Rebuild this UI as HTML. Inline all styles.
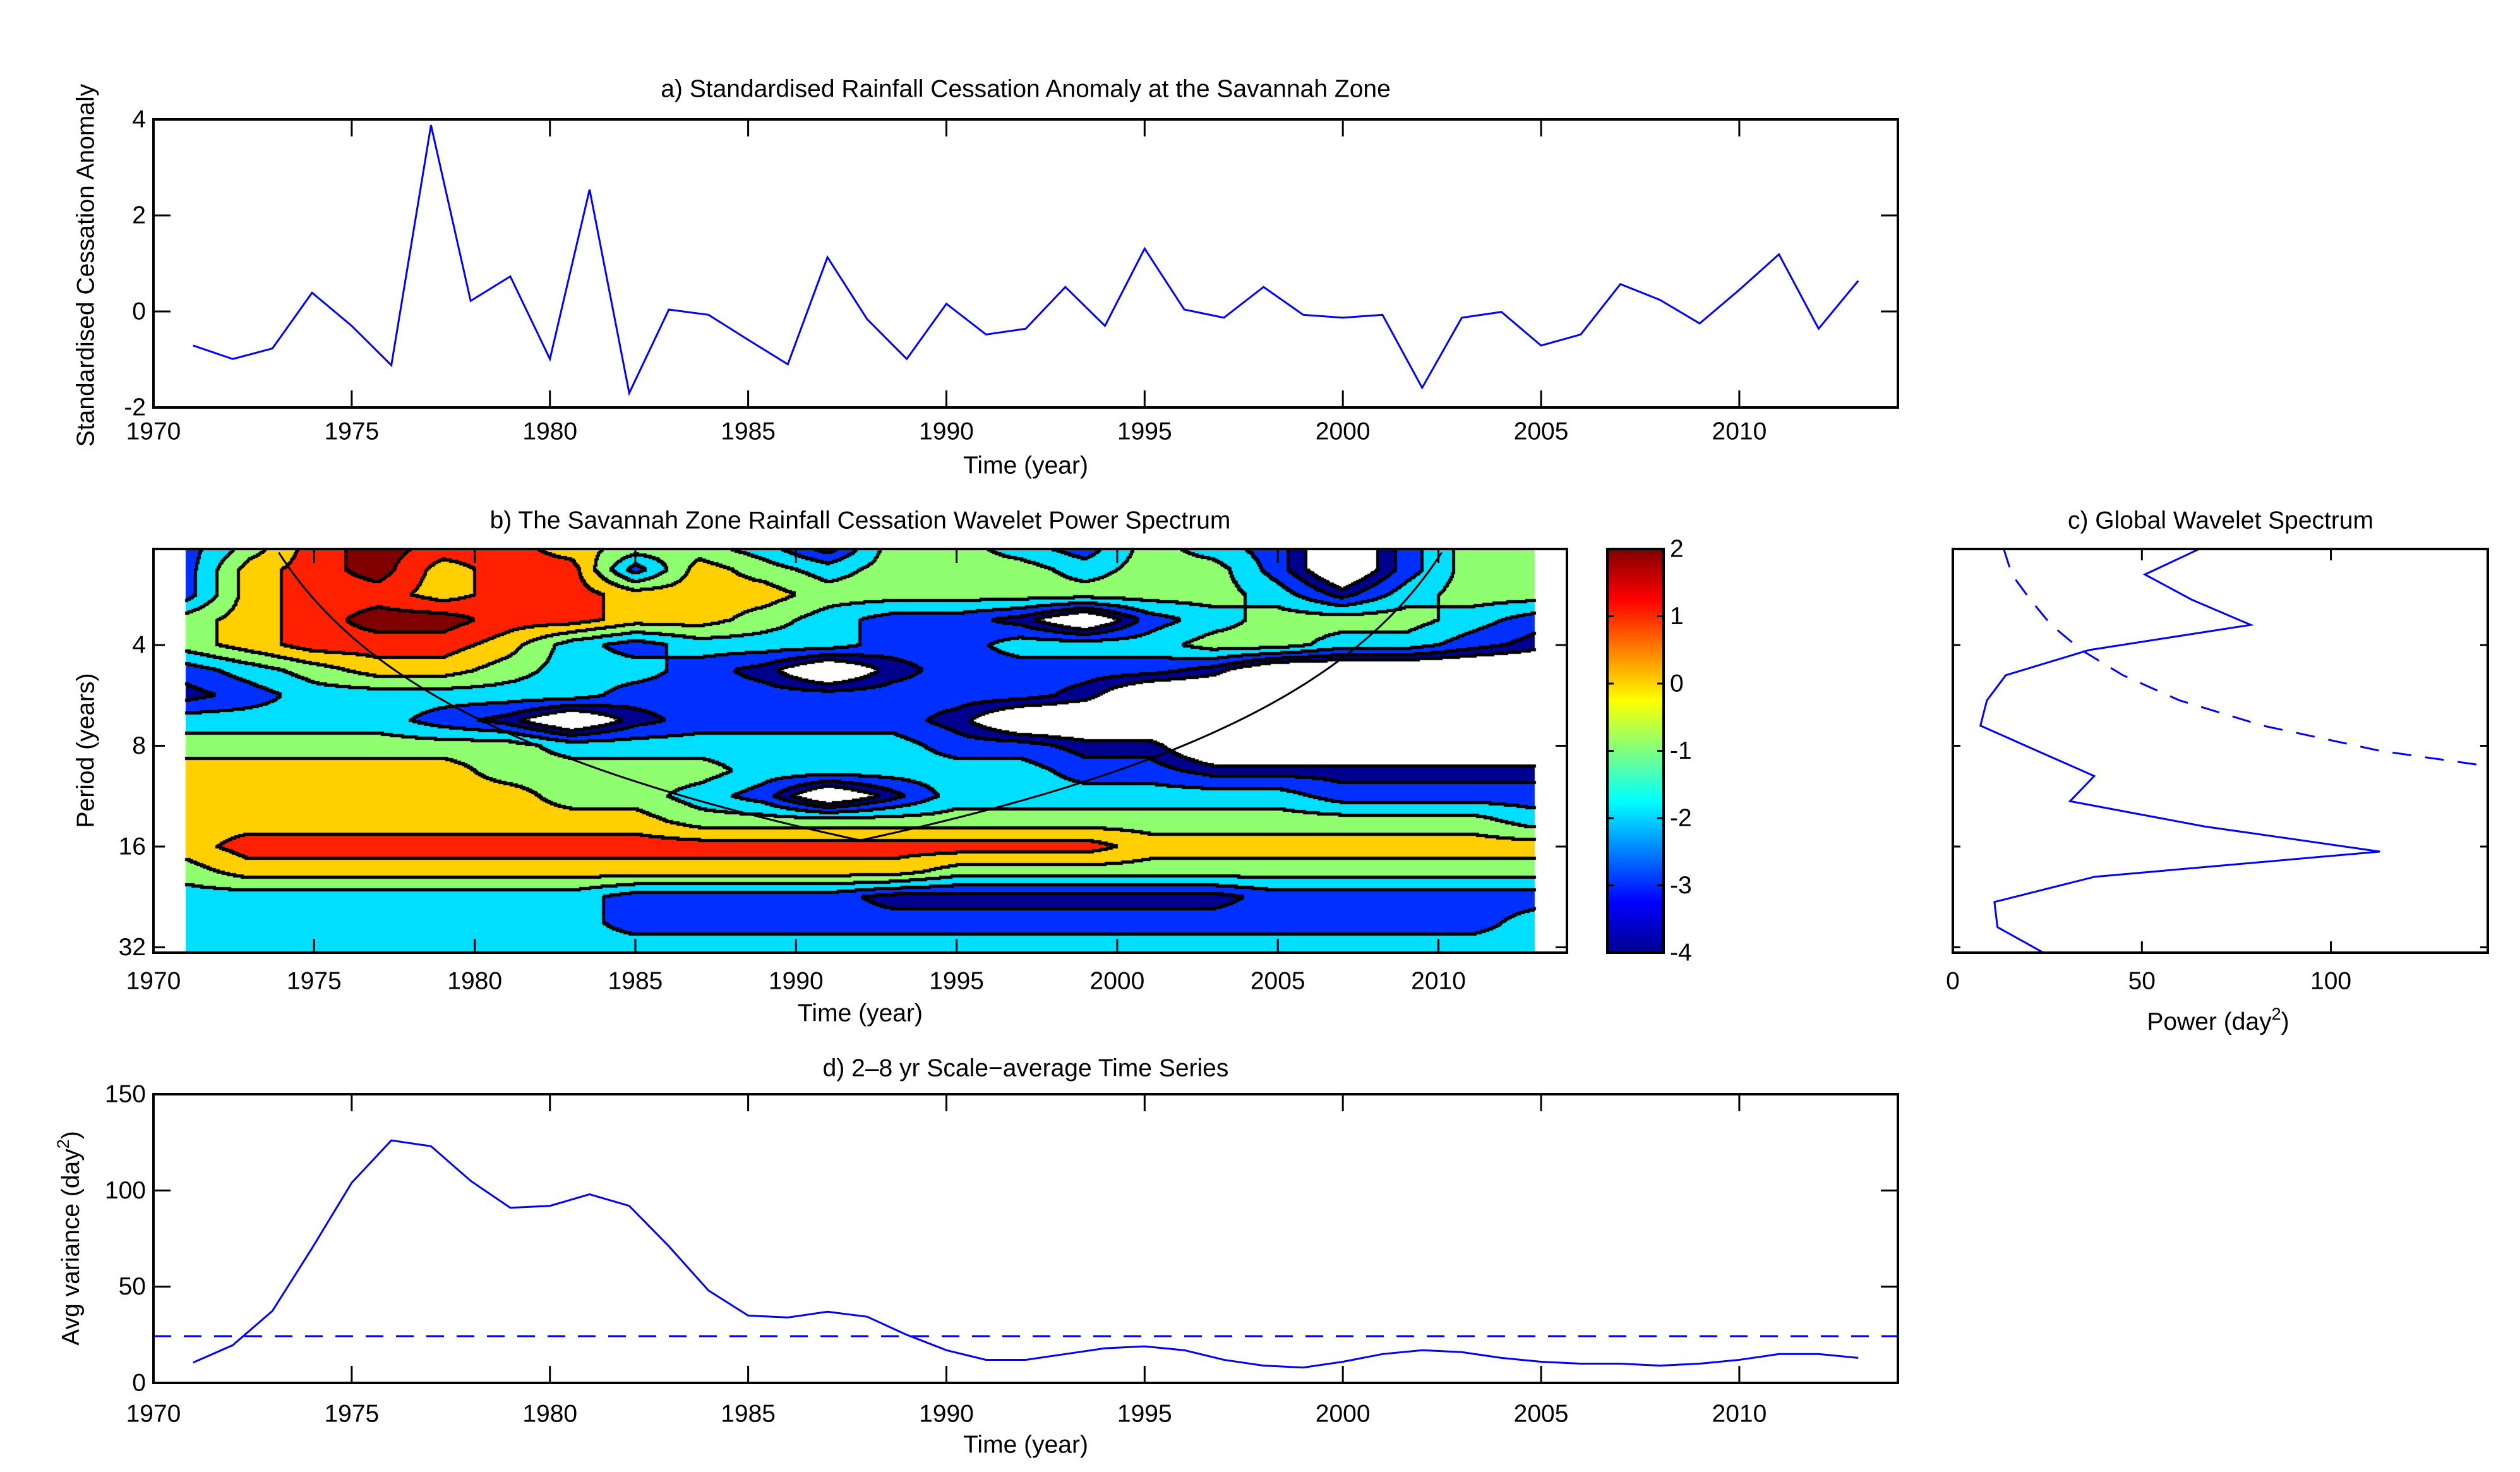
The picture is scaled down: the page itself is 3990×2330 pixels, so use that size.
<!DOCTYPE html>
<html><head><meta charset="utf-8">
<style>
html,body{margin:0;padding:0;background:#fff;}
#wrap{position:relative;width:3990px;height:2330px;overflow:hidden;background:#fff;}
#cv{position:absolute;left:0;top:0;}
#sv{position:absolute;left:0;top:0;}
text{font-family:"Liberation Sans",Arial,sans-serif;fill:#000;}
</style></head>
<body>
<div id="wrap">
<canvas id="cv" width="3990" height="2330"></canvas>
<svg id="sv" width="3990" height="2330" xmlns="http://www.w3.org/2000/svg"></svg>
</div>
<script>
// ---- data ----
const yearsA = [1971,1972,1973,1974,1975,1976,1977,1978,1979,1980,1981,1982,1983,1984,1985,1986,1987,1988,1989,1990,1991,1992,1993,1994,1995,1996,1997,1998,1999,2000,2001,2002,2003,2004,2005,2006,2007,2008,2009,2010,2011,2012,2013];
const anomaly = [-0.71,-0.99,-0.77,0.39,-0.30,-1.12,3.88,0.22,0.73,-0.99,2.54,-1.70,0.04,-0.07,-0.59,-1.10,1.13,-0.16,-0.99,0.16,-0.48,-0.36,0.51,-0.30,1.31,0.04,-0.13,0.51,-0.07,-0.13,-0.07,-1.59,-0.13,-0.01,-0.71,-0.48,0.57,0.24,-0.25,0.45,1.19,-0.36,0.64];
const scaleAvg = [10.6,19.6,37.4,70,104,126,123,105,91,92,98,92,71,48,35,34,37,34.4,25,17,12,12,15,18,19,17,12,9,8,11,15,17,16,13,11,10,10,9,10,12,15,15,13];
const scaleAvgSig = [24.3];
const gwsLog2Period = [1.05,1.30,1.55,1.80,2.05,2.30,2.55,2.80,3.05,3.30,3.55,3.80,4.05,4.30,4.55,4.80,5.05];
const gwsPower = [65,50.8,63.2,78.8,36,14,9,7.3,22.3,37.4,31,66.5,113,37.5,11,11.8,23.8];
const gwsSignif = [13.5,15.6,20.5,26,34,45,60,82,113,160,200,240,280,320,360,400,440];
const contourYears = [1971,1973,1975,1977,1979,1981,1983,1985,1987,1989,1991,1993,1995,1997,1999,2001,2003,2005,2007,2009,2011,2013];
const contourLog2Period = [1.05,1.25,1.5,1.75,2,2.25,2.5,2.75,3,3.25,3.5,3.75,4,4.25,4.5,4.75,5.0];
// class codes: W<-4, N navy, B blue, C cyan, G green, Y orange, R red, D dark red
const contourRows = [
"BGRDRRYGGCNGGCBGCBWBGG",
"BYRDYRRBYGCGGGCGGBWBGG",
"BYRRYRRYYYGGGGGGGCNCGG",
"GYRDDRRYYGCBBNWBCGGGCB",
"GYRRRYCBCCCBBCCCGGCCBN",
"BCGYYGCCBNWNBBBBNWWWWW",
"NBCCCCCBBBBBBBNWWWWWWW",
"CCCCBNWNBBBBNWWWWWWWWW",
"GGGGGGCCCCCCBBNNWWWWWW",
"YYYYYGGGGCCCCCBBNNNNNN",
"YYYYYYGGCBWNCCCCCCBBBB",
"YYYYYYYYGGGGGGGGGGGGGC",
"YRRRRRRRRRRRRRRYYYYYYY",
"GYYYYYYYYYYYGGGGGGGGGG",
"CCCCCCCBBBBNNNNNNBBBBB",
"CCCCCCCBBBBBBBBBBBBBBC",
"CCCCCCCCCCCCCCCCCCCCCC"];
const codeValue = {W:-5.5,N:-3.75,B:-3,C:-2,G:-1,Y:0,R:1,D:2};
const levelEdges = [-4.1,-3.4,-2.5,-1.5,-0.5,0.5,1.5];
const levelColors = ["#ffffff","#00008f","#0030ff","#00dfff","#8fff70","#ffcf00","#ff2000","#800000"];
const xTicksYear = [1970,1975,1980,1985,1990,1995,2000,2005,2010];
const aYTicks = [-2,0,2,4];
const periodTicks = [4,8,16,32];
const cbTicks = [2,1,0,-1,-2,-3,-4];
const cXTicks = [0,50,100];
const dYTicks = [0,50,100,150];

// ---- axes ----
const A = {l:243,r:3005,t:189,b:645};
const B = {l:243,r:2481,t:869,b:1508};
const CB = {l:2545,r:2634,t:869,b:1508};
const C = {l:3092,r:3939,t:869,b:1508};
const D = {l:243,r:3005,t:1732,b:2189};
const xa = y => A.l + (y-1970)*(A.r-A.l)/44;
const ya = v => A.b - (v+2)*(A.b-A.t)/6;
const xb = y => B.l + (y-1970)*(B.r-B.l)/44;
const yb = L => 1021 + (L-2)*159.5;
const xc = p => C.l + p*(C.r-C.l)/141.5;
const xd = xa;
const yd = v => D.b - v*(D.b-D.t)/150;
const ycb = v => CB.t + (2-v)*(CB.b-CB.t)/6;

const NS="http://www.w3.org/2000/svg";
const svg=document.getElementById('sv');
function mk(tag, attrs, parent){const e=document.createElementNS(NS,tag);for(const k in attrs)e.setAttribute(k,attrs[k]);(parent||svg).appendChild(e);return e;}
function txt(x,y,s,anchor,size,rot){const t=mk('text',{x:x,y:y,'text-anchor':anchor||'middle','font-size':size||39,'dominant-baseline':'central'});if(rot)t.setAttribute('transform','rotate(-90 '+x+' '+y+')');t.textContent=s;return t;}

// ---- contour canvas ----
const cv=document.getElementById('cv');const ctx=cv.getContext('2d');
ctx.fillStyle="#fff";ctx.fillRect(0,0,3990,2330);
function fieldVal(yr,L){
  let j=(yr-1971)/2; j=Math.max(0,Math.min(contourYears.length-1.0001,j));
  const j0=Math.floor(j), fj=j-j0;
  let i0=0; while(i0<contourLog2Period.length-2 && L>contourLog2Period[i0+1]) i0++;
  let fi=(L-contourLog2Period[i0])/(contourLog2Period[i0+1]-contourLog2Period[i0]); fi=Math.max(0,Math.min(1,fi));
  const v=(i,jj)=>codeValue[contourRows[i][jj]];
  const a=v(i0,j0)*(1-fj)+v(i0,j0+1)*fj, b=v(i0+1,j0)*(1-fj)+v(i0+1,j0+1)*fj;
  return a*(1-fi)+b*fi;
}
function lev(v){let k=0;for(const e of levelEdges)if(v>e)k++;return k;}
const st=2, x0=Math.round(xb(1971)), x1=Math.round(xb(2013)), y0=B.t, y1=B.b;
const nx=Math.ceil((x1-x0)/st), ny=Math.ceil((y1-y0)/st);
const grid=[];
for(let r=0;r<ny;r++){const row=[];const L=2+((y0+r*st+1)-1021)/159.5;
  for(let c=0;c<nx;c++){const yr=1970+((x0+c*st+1)-B.l)*44/(B.r-B.l);row.push(lev(fieldVal(yr,L)));}
  grid.push(row);}
for(let r=0;r<ny;r++)for(let c=0;c<nx;c++){ctx.fillStyle=levelColors[grid[r][c]];ctx.fillRect(x0+c*st,y0+r*st,st,st);}
ctx.fillStyle="#000";
for(let r=0;r<ny;r++)for(let c=0;c<nx;c++){
  const g=grid[r][c];
  if((c+1<nx&&grid[r][c+1]!==g)||(r+1<ny&&grid[r+1][c]!==g)) ctx.fillRect(x0+c*st-1,y0+r*st-1,st+3,st+3);
}

// ---- generic axis drawing ----
function box(P,name){const e=mk('rect',{x:P.l,y:P.t,width:P.r-P.l,height:P.b-P.t,fill:'none',stroke:'#000','stroke-width':4});

}
function xTicks(P,vals,fx,len,name,labY){const g=mk('g',{});


for(const v of vals){const x=fx(v);mk('line',{x1:x,y1:P.b,x2:x,y2:P.b-len,stroke:'#000','stroke-width':3},g);mk('line',{x1:x,y1:P.t,x2:x,y2:P.t+len,stroke:'#000','stroke-width':3},g);
const t=txt(x,labY,String(v),'middle',39);g.appendChild(t);}}
function yTicks(P,vals,fy,len,name,labels){const g=mk('g',{});


vals.forEach((v,i)=>{const y=fy(v);mk('line',{x1:P.l,y1:y,x2:P.l+len,y2:y,stroke:'#000','stroke-width':3},g);mk('line',{x1:P.r,y1:y,x2:P.r-len,y2:y,stroke:'#000','stroke-width':3},g);
const t=txt(P.l-12,y,labels?labels[i]:String(v),'end',39);g.appendChild(t);});}

// ---- panel a ----
{const pts=yearsA.map((y,i)=>xa(y)+','+ya(anomaly[i])).join(' ');
const l=mk('polyline',{points:pts,fill:'none',stroke:'#0000ff','stroke-width':3});

}
box(A,'panel-a-axes');
xTicks(A,xTicksYear,xa,27,'panel-a-x-axis',683);
yTicks(A,aYTicks,ya,27,'panel-a-y-axis');
{let t=txt(1624,141,'a) Standardised Rainfall Cessation Anomaly at the Savannah Zone');


t=txt(1624,737,'Time (year)');


t=txt(136,420,'Standardised Cessation Anomaly','middle',39,true);

}

// ---- panel b ----
{const pts=[];for(let y=1971;y<=2013;y+=0.1){const d=Math.min(y-1971,2013-y)*0.73;if(d<=0)continue;const L=Math.log2(d);if(L<1.04)continue;pts.push(xb(y)+','+yb(Math.min(L,5.05)));}
const cp=mk('clipPath',{id:'clipb'});mk('rect',{x:B.l,y:B.t,width:B.r-B.l,height:B.b-B.t},cp);
const l=mk('polyline',{points:pts.join(' '),fill:'none',stroke:'#000','stroke-width':3,'clip-path':'url(#clipb)'});

}
box(B,'panel-b-axes');
xTicks(B,xTicksYear,xb,22,'panel-b-x-axis',1553);
yTicks(B,periodTicks.map(p=>Math.log2(p)),yb,18,'panel-b-y-axis',periodTicks.map(String));
{let t=txt(1362,824,'b) The Savannah Zone Rainfall Cessation Wavelet Power Spectrum');


t=txt(1362,1604,'Time (year)');


t=txt(136,1188,'Period (years)','middle',39,true);

}

// ---- colorbar ----
{const defs=mk('defs',{});const lg=mk('linearGradient',{id:'jet',x1:0,y1:1,x2:0,y2:0},defs);
[[0,'#00008f'],[0.125,'#0000ff'],[0.375,'#00ffff'],[0.625,'#ffff00'],[0.875,'#ff0000'],[1,'#800000']].forEach(s=>mk('stop',{offset:s[0],'stop-color':s[1]},lg));
const r=mk('rect',{x:CB.l,y:CB.t,width:CB.r-CB.l,height:CB.b-CB.t,fill:'url(#jet)',stroke:'#000','stroke-width':4});


const g=mk('g',{});


for(const v of cbTicks){const y=ycb(v);mk('line',{x1:CB.l,y1:y,x2:CB.l+10,y2:y,stroke:'#000','stroke-width':3},g);mk('line',{x1:CB.r,y1:y,x2:CB.r-10,y2:y,stroke:'#000','stroke-width':3},g);g.appendChild(txt(CB.r+10,y,String(v),'start',39));}}

// ---- panel c ----
{const cp=mk('clipPath',{id:'clipc'});mk('rect',{x:C.l,y:C.t,width:C.r-C.l,height:C.b-C.t},cp);
let pts=gwsLog2Period.map((L,i)=>xc(gwsPower[i])+','+yb(L)).join(' ');
let l=mk('polyline',{points:pts,fill:'none',stroke:'#0000ff','stroke-width':3,'clip-path':'url(#clipc)'});


pts=gwsLog2Period.map((L,i)=>xc(gwsSignif[i])+','+yb(L)).join(' ');
l=mk('polyline',{points:pts,fill:'none',stroke:'#0000ff','stroke-width':3,'stroke-dasharray':'30 22','clip-path':'url(#clipc)'});

}
box(C,'panel-c-axes');
xTicks(C,cXTicks,xc,18,'panel-c-x-axis',1553);
{const g=mk('g',{});


for(const p of periodTicks){const y=yb(Math.log2(p));mk('line',{x1:C.l,y1:y,x2:C.l+12,y2:y,stroke:'#000','stroke-width':3},g);mk('line',{x1:C.r,y1:y,x2:C.r-12,y2:y,stroke:'#000','stroke-width':3},g);}}
{let t=txt(3516,824,'c) Global Wavelet Spectrum');


t=mk('text',{x:3512,y:1630,'text-anchor':'middle','font-size':39});
t.innerHTML='Power (day<tspan font-size="27" dy="-16">2</tspan><tspan dy="16">)</tspan>';

}

// ---- panel d ----
{const pts=yearsA.map((y,i)=>xd(y)+','+yd(scaleAvg[i])).join(' ');
let l=mk('polyline',{points:pts,fill:'none',stroke:'#0000ff','stroke-width':3});


l=mk('line',{x1:D.l,y1:yd(scaleAvgSig[0]),x2:D.r,y2:yd(scaleAvgSig[0]),stroke:'#0000ff','stroke-width':3,'stroke-dasharray':'28 20'});

}
box(D,'panel-d-axes');
xTicks(D,xTicksYear,xd,27,'panel-d-x-axis',2238);
yTicks(D,dYTicks,yd,27,'panel-d-y-axis');
{let t=txt(1624,1691,'d) 2\u20138 yr Scale\u2212average Time Series');


t=txt(1624,2287,'Time (year)');


t=mk('text',{x:125,y:1960,'text-anchor':'middle','font-size':39,transform:'rotate(-90 125 1960)'});
t.innerHTML='Avg variance (day<tspan font-size="27" dy="-16">2</tspan><tspan dy="16">)</tspan>';

}
</script>
</body></html>
